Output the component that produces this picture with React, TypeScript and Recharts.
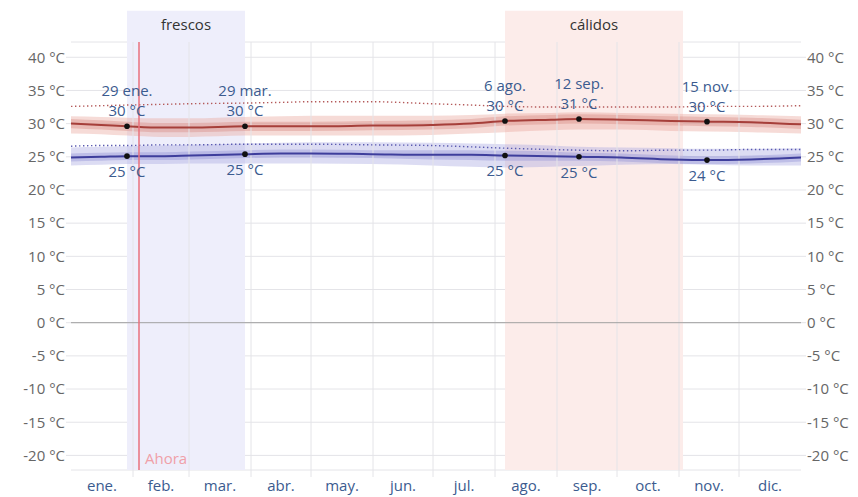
import React from "react";
import {
  ComposedChart, Area, Line, Scatter, XAxis, YAxis, CartesianGrid,
  ReferenceArea, ReferenceLine,
} from "recharts";

const MONTHS = ["ene.", "feb.", "mar.", "abr.", "may.", "jun.", "jul.", "ago.", "sep.", "oct.", "nov.", "dic."];
const MONTH_START = [0, 31, 59, 90, 120, 151, 181, 212, 243, 273, 304, 334, 365];
const Y_TICKS = [-20, -15, -10, -5, 0, 5, 10, 15, 20, 25, 30, 35, 40];

// day of year for each sample
const DAYS = [0, 15, 28, 45, 60, 87, 105, 120, 150, 180, 200, 217, 240, 254, 275, 300, 318, 340, 365];

const HIGH = [30.0, 29.8, 29.6, 29.4, 29.4, 29.6, 29.6, 29.6, 29.7, 29.8, 30.0, 30.4, 30.6, 30.7, 30.6, 30.4, 30.3, 30.2, 29.9];
const HIGH_P25 = [29.3, 29.1, 28.9, 28.7, 28.7, 28.9, 28.9, 28.9, 29.0, 29.1, 29.3, 29.7, 29.9, 30.0, 29.9, 29.7, 29.6, 29.5, 29.2];
const HIGH_P75 = [30.7, 30.5, 30.3, 30.1, 30.1, 30.3, 30.3, 30.3, 30.4, 30.5, 30.7, 31.1, 31.3, 31.4, 31.3, 31.1, 31.0, 30.9, 30.6];
const HIGH_P10 = [28.5, 28.4, 28.2, 28.0, 28.0, 28.2, 28.2, 28.2, 28.2, 28.3, 28.5, 28.7, 29.0, 29.1, 29.1, 28.9, 28.8, 28.7, 28.5];
const HIGH_P90 = [31.1, 31.0, 30.9, 30.8, 30.8, 31.0, 31.1, 31.2, 31.2, 31.2, 31.3, 31.5, 31.6, 31.7, 31.6, 31.5, 31.4, 31.3, 31.1];
const HIGH_DOT = [32.6, 32.7, 32.8, 32.9, 33.0, 33.1, 33.2, 33.3, 33.3, 33.0, 32.8, 32.6, 32.5, 32.5, 32.5, 32.5, 32.6, 32.6, 32.7];

const LOW = [24.9, 25.0, 25.1, 25.1, 25.2, 25.4, 25.5, 25.5, 25.4, 25.3, 25.3, 25.2, 25.1, 25.0, 24.9, 24.6, 24.5, 24.6, 24.9];
const LOW_P25 = [24.3, 24.4, 24.5, 24.5, 24.6, 24.8, 24.9, 24.9, 24.8, 24.6, 24.5, 24.4, 24.4, 24.4, 24.3, 24.0, 23.9, 24.0, 24.3];
const LOW_P75 = [25.5, 25.6, 25.7, 25.7, 25.8, 26.0, 26.1, 26.1, 26.0, 26.0, 26.0, 25.9, 25.8, 25.6, 25.5, 25.2, 25.1, 25.2, 25.5];
const LOW_P10 = [23.7, 23.8, 23.9, 23.9, 24.0, 24.0, 24.0, 24.0, 23.9, 23.7, 23.5, 23.4, 23.5, 23.6, 23.8, 23.9, 23.8, 23.7, 23.7];
const LOW_P90 = [26.4, 26.5, 26.6, 26.7, 26.8, 27.0, 27.1, 27.2, 27.2, 27.1, 27.0, 26.9, 26.7, 26.5, 26.4, 26.3, 26.2, 26.2, 26.3];
const LOW_DOT = [26.6, 26.7, 26.7, 26.8, 26.8, 26.9, 26.9, 26.9, 26.8, 26.7, 26.5, 26.3, 26.1, 26.0, 25.9, 26.0, 26.0, 26.1, 26.1];

// annotated points
const HIGH_PTS = [
  { day: 28, v: 29.6, date: "29 ene.", t: "30 °C" },
  { day: 87, v: 29.6, date: "29 mar.", t: "30 °C" },
  { day: 217, v: 30.4, date: "6 ago.", t: "30 °C" },
  { day: 254, v: 30.7, date: "12 sep.", t: "31 °C" },
  { day: 318, v: 30.3, date: "15 nov.", t: "30 °C" },
];
const LOW_PTS = [
  { day: 28, v: 25.1, t: "25 °C" },
  { day: 87, v: 25.4, t: "25 °C" },
  { day: 217, v: 25.2, t: "25 °C" },
  { day: 254, v: 25.0, t: "25 °C" },
  { day: 318, v: 24.5, t: "24 °C" },
];

const COOL = [28, 87];   // frescos
const WARM = [217, 306]; // cálidos
const NOW = 34;

const data = DAYS.map((day, i) => ({
  day,
  high: HIGH[i],
  highIn: [HIGH_P25[i], HIGH_P75[i]],
  highOut: [HIGH_P10[i], HIGH_P90[i]],
  highDot: HIGH_DOT[i],
  low: LOW[i],
  lowIn: [LOW_P25[i], LOW_P75[i]],
  lowOut: [LOW_P10[i], LOW_P90[i]],
  lowDot: LOW_DOT[i],
}));

const BOUNDS = MONTH_START.slice(1, 12);
const MIDS = MONTHS.map((_, i) => (MONTH_START[i] + MONTH_START[i + 1]) / 2);

const FONT = "'Open Sans', sans-serif";
const FS = 15;
const LABEL_BLUE = "#3b5b8f";
const GRID = "#e4e4e8";

function MonthTick({ x, y, payload }: any) {
  const v = payload.value;
  if (BOUNDS.includes(v)) {
    return <line x1={x} x2={x} y1={y} y2={y + 7} stroke={GRID} />;
  }
  const i = MIDS.indexOf(v);
  return (
    <text x={x} y={y + 15} textAnchor="middle" dominantBaseline="central"
      fill={LABEL_BLUE} fontSize={FS} fontFamily={FONT}>{MONTHS[i]}</text>
  );
}

function HighDot({ cx, cy, payload }: any) {
  return (
    <g>
      <circle cx={cx} cy={cy} r={2.8} fill="#111" />
      <text x={cx} y={cy - 36} textAnchor="middle" dominantBaseline="central"
        fill={LABEL_BLUE} fontSize={FS} fontFamily={FONT}>{payload.date}</text>
      <text x={cx} y={cy - 16} textAnchor="middle" dominantBaseline="central"
        fill={LABEL_BLUE} fontSize={FS} fontFamily={FONT}>{payload.t}</text>
    </g>
  );
}

function LowDot({ cx, cy, payload }: any) {
  return (
    <g>
      <circle cx={cx} cy={cy} r={2.8} fill="#111" />
      <text x={cx} y={cy + 15} textAnchor="middle" dominantBaseline="central"
        fill={LABEL_BLUE} fontSize={FS} fontFamily={FONT}>{payload.t}</text>
    </g>
  );
}

const yTick = { fontSize: FS, fill: "#666", fontFamily: FONT };
const fmt = (v: number) => `${v} °C`;

export default function App() {
  return (
    <div style={{ position: "absolute", left: 0, top: 0, width: 858, height: 497, background: "#fff" }}>
      <ComposedChart width={858} height={497} data={data}
        margin={{ top: 42, right: 0, bottom: 0, left: 0 }}>
        <XAxis xAxisId="m" dataKey="day" type="number" domain={[0, 365]}
          ticks={[...BOUNDS, ...MIDS].sort((a, b) => a - b)} interval={0}
          tick={<MonthTick />} tickLine={false} axisLine={false}
          tickSize={0} tickMargin={0} height={27} />
        <YAxis yAxisId="l" domain={[-22.2, 42.3]} ticks={Y_TICKS} tickFormatter={fmt}
          tick={yTick} width={71} axisLine={false} tickSize={5} tickMargin={1}
          tickLine={{ stroke: GRID }} allowDataOverflow />
        <YAxis yAxisId="r" orientation="right" domain={[-22.2, 42.3]} ticks={Y_TICKS}
          tickFormatter={fmt} tick={{ ...yTick, textAnchor: "start" }} width={57}
          axisLine={false} tickSize={5} tickMargin={1} tickLine={{ stroke: GRID }} allowDataOverflow />

        <ReferenceArea xAxisId="m" yAxisId="l" x1={COOL[0]} x2={COOL[1]} y1={-22.2} y2={47}
          fill="#eeeefb" fillOpacity={1} ifOverflow="visible"
          label={{ value: "frescos", position: "insideTop", offset: 9, fill: "#333", fontSize: FS, fontFamily: FONT }} />
        <ReferenceArea xAxisId="m" yAxisId="l" x1={WARM[0]} x2={WARM[1]} y1={-22.2} y2={47}
          fill="#fcecea" fillOpacity={1} ifOverflow="visible"
          label={{ value: "cálidos", position: "insideTop", offset: 9, fill: "#333", fontSize: FS, fontFamily: FONT }} />

        <CartesianGrid xAxisId="m" yAxisId="l" vertical={false} stroke={GRID} />
        {BOUNDS.map((b) => (
          <ReferenceLine key={b} xAxisId="m" yAxisId="l" x={b} stroke={GRID} />
        ))}
        <ReferenceLine xAxisId="m" yAxisId="l" y={0} stroke="#a0a0a0" />

        <Area xAxisId="m" yAxisId="l" dataKey="highOut" type="monotone" stroke="none"
          fill="#e8a49c" fillOpacity={0.4} isAnimationActive={false} />
        <Area xAxisId="m" yAxisId="l" dataKey="highIn" type="monotone" stroke="none"
          fill="#d88a82" fillOpacity={0.4} isAnimationActive={false} />
        <Area xAxisId="m" yAxisId="l" dataKey="lowOut" type="monotone" stroke="none"
          fill="#a8a8e0" fillOpacity={0.4} isAnimationActive={false} />
        <Area xAxisId="m" yAxisId="l" dataKey="lowIn" type="monotone" stroke="none"
          fill="#9090d4" fillOpacity={0.4} isAnimationActive={false} />

        <Line xAxisId="m" yAxisId="l" dataKey="highDot" type="monotone" stroke="#b45a5a"
          strokeWidth={1.4} strokeDasharray="1.4 2.6" dot={false} isAnimationActive={false} />
        <Line xAxisId="m" yAxisId="l" dataKey="lowDot" type="monotone" stroke="#5a5ab0"
          strokeWidth={1.4} strokeDasharray="1.4 2.6" dot={false} isAnimationActive={false} />
        <Line xAxisId="m" yAxisId="l" dataKey="high" type="monotone" stroke="#a63f3a"
          strokeWidth={2} dot={false} isAnimationActive={false} />
        <Line xAxisId="m" yAxisId="l" dataKey="low" type="monotone" stroke="#3e3e9c"
          strokeWidth={2} dot={false} isAnimationActive={false} />

        <ReferenceLine xAxisId="m" yAxisId="l" x={NOW} stroke="#e8707c" strokeWidth={1.5}
          label={{ value: "Ahora", position: "insideBottomLeft", offset: 6, fill: "#f0a0a8", fontSize: FS, fontFamily: FONT }} />

        <Scatter xAxisId="m" yAxisId="l" data={HIGH_PTS} dataKey="v" shape={<HighDot />} isAnimationActive={false} />
        <Scatter xAxisId="m" yAxisId="l" data={LOW_PTS} dataKey="v" shape={<LowDot />} isAnimationActive={false} />
      </ComposedChart>
    </div>
  );
}
